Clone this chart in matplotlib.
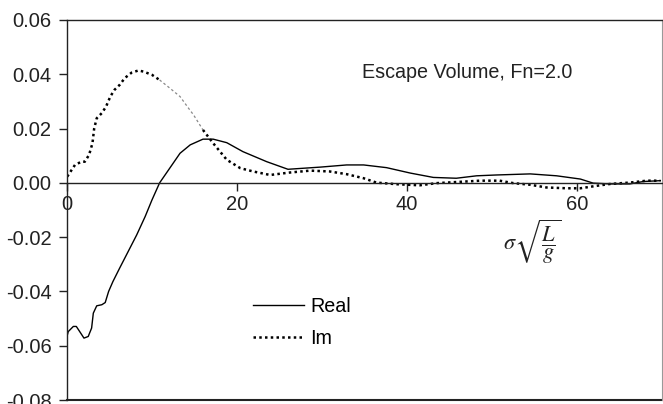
import matplotlib
matplotlib.use("Agg")
import matplotlib.pyplot as plt
from matplotlib.lines import Line2D

plt.rcParams['font.family'] = ['Liberation Sans', 'DejaVu Sans']
plt.rcParams['axes.unicode_minus'] = False
plt.rcParams['mathtext.fontset'] = 'stix'

# escape volume response, Fn = 2.0
real_x = [0.0, 0.15, 0.75, 1.1, 1.5, 2.0, 2.5, 2.9, 3.1, 3.5, 4.1, 4.5, 4.9, 5.4,
          6.2, 7.2, 8.2, 9.2, 10.0, 10.9, 13.3, 14.5, 16.0, 17.2, 18.8, 20.7, 23.5,
          26.0, 29.8, 32.9, 34.9, 37.6, 40.4, 43.1, 45.8, 48.2, 50.5, 54.5, 57.6,
          60.4, 61.9, 63.9, 66.2, 67.8, 69.8]
real_y = [-0.0566, -0.0548, -0.0529, -0.0529, -0.0548, -0.0572, -0.0566, -0.0535,
          -0.0480, -0.0453, -0.0449, -0.0441, -0.0400, -0.0364, -0.0314, -0.0253,
          -0.0192, -0.0124, -0.0063, 0.0000, 0.0109, 0.0140, 0.0161, 0.0161, 0.0148,
          0.0115, 0.0078, 0.0050, 0.0058, 0.0066, 0.0066, 0.0056, 0.0036, 0.0020,
          0.0017, 0.0026, 0.0029, 0.0033, 0.0026, 0.0014, -0.0001, -0.0004, -0.0004,
          0.0005, 0.0008]

im_x = [0.03, 0.94, 1.7, 2.1, 2.6, 3.0, 3.2, 3.5, 4.1, 4.6, 5.1, 5.6, 6.2, 6.8,
        7.6, 8.4, 9.0, 10.0, 10.9, 12.1, 13.3, 14.3, 14.9, 16.0, 17.2, 18.8, 20.4,
        21.9, 23.9, 26.2, 28.6, 30.9, 32.9, 34.9, 36.4, 38.8, 41.5, 43.5, 45.8,
        48.6, 50.9, 52.5, 54.5, 56.4, 58.8, 60.4, 62.3, 63.9, 66.2, 68.2, 69.8]
im_y = [0.0023, 0.0066, 0.0078, 0.0078, 0.0103, 0.0146, 0.0200, 0.0238, 0.0257,
        0.0281, 0.0318, 0.0343, 0.0361, 0.0386, 0.0406, 0.0414, 0.0410, 0.0398,
        0.0379, 0.0349, 0.0318, 0.0275, 0.0250, 0.0195, 0.0146, 0.0085, 0.0054,
        0.0042, 0.0029, 0.0038, 0.0045, 0.0042, 0.0032, 0.0017, 0.0001, -0.0005,
        -0.0009, -0.0001, 0.0003, 0.0008, 0.0008, -0.0001, -0.0007, -0.0017,
        -0.0020, -0.0020, -0.0011, -0.0004, 0.0001, 0.0008, 0.0008]

x_ticks = [0, 20, 40, 60]
y_ticks = [0.06, 0.04, 0.02, 0.00, -0.02, -0.04, -0.06, -0.08]

fig = plt.figure(figsize=(6.63, 4.04), dpi=100)
ax = fig.add_axes([0.101, 0.0099, 0.8975, 0.9406])

ax.plot(real_x, real_y, color='black', lw=1.0)
# the steep falling part of Im is drawn thinner and lighter
ax.plot(im_x[:19], im_y[:19], color='black', lw=1.8, ls=(0, (1, 1.3)))
ax.plot(im_x[18:24], im_y[18:24], color='#888888', lw=0.9, ls=(0, (2, 2)))
ax.plot(im_x[23:], im_y[23:], color='black', lw=1.8, ls=(0, (1, 1.3)))

ax.set_xlim(0, 70)
ax.set_ylim(-0.08, 0.06)
ax.set_xticks(x_ticks)
ax.set_yticks(y_ticks)
ax.set_yticklabels([f"{v:.2f}" for v in y_ticks])

ax.spines['bottom'].set_position(('data', 0))
for s in ['left', 'bottom', 'top']:
    ax.spines[s].set_color('#222222')
    ax.spines[s].set_linewidth(1.0)
ax.spines['right'].set_color('#999999')
ax.axhline(-0.08, color='#222222', lw=1.5, clip_on=False)

ax.tick_params(axis='both', direction='out', length=6, width=1.0,
               colors='#222222', labelsize=14.5, labelcolor='#222222')
ax.tick_params(axis='x', pad=3)
ax.tick_params(axis='y', pad=5)

ax.text(34.7, 0.0388, 'Escape Volume, Fn=2.0', fontsize=14.2, color='#222222')
ax.text(51.3, -0.0218, r'$\sigma\sqrt{\dfrac{L}{g}}$', fontsize=16,
        color='#222222', va='center')

handles = [Line2D([], [], color='black', lw=1.0),
           Line2D([], [], color='black', lw=1.8, ls=(0, (1, 1.3)))]
ax.legend(handles, ['Real', 'Im'], loc='center', bbox_to_anchor=(0.395, 0.205),
          frameon=False, fontsize=14.2, handlelength=2.6, handletextpad=0.3,
          labelspacing=0.65)

fig.savefig('out.png', dpi=100)
